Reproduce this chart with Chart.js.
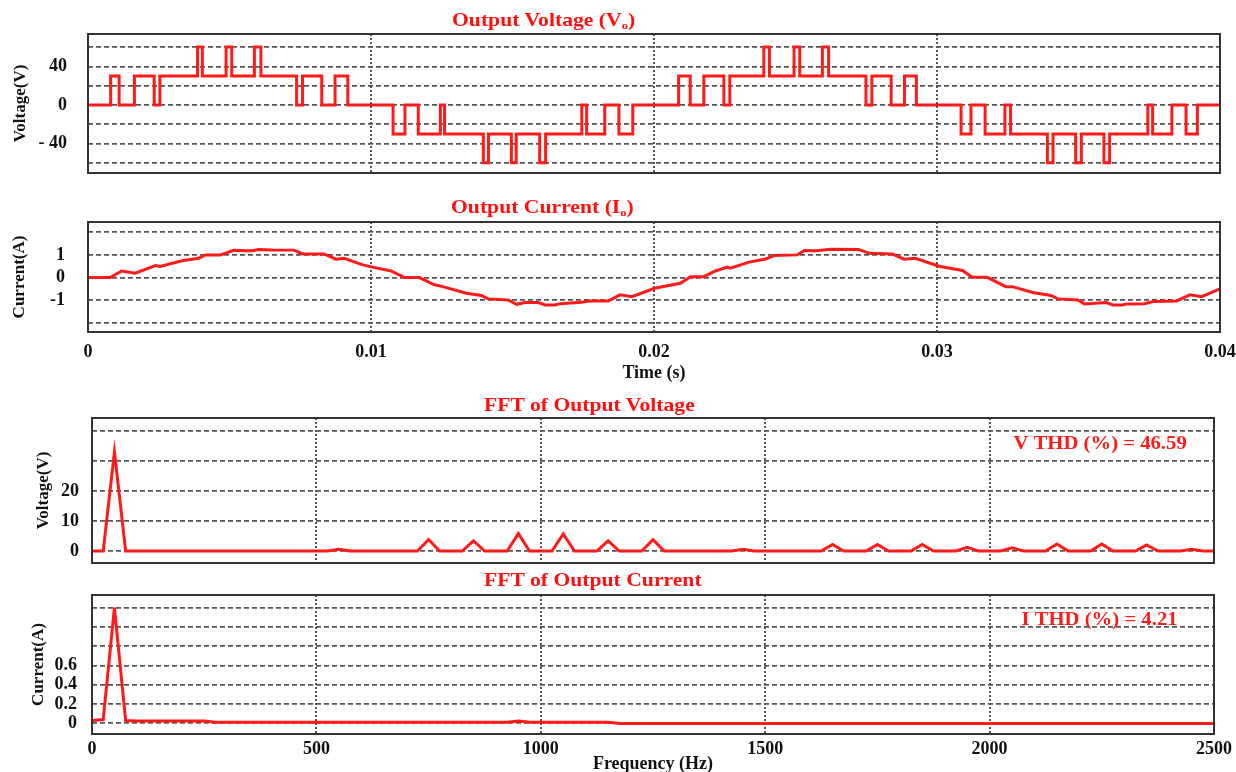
<!DOCTYPE html>
<html>
<head>
<meta charset="utf-8">
<script src="https://cdn.jsdelivr.net/npm/chart.js@4.4.0/dist/chart.umd.min.js"></script>
<style>
body { margin: 0; background: #fff; }
#wrap { position: relative; width: 1236px; height: 772px; overflow: hidden; }
canvas { position: absolute; left: 0; }
.ttl { position: absolute; font: bold 19px "Liberation Serif", "Times New Roman", serif; color: #ff1010; line-height: 22px; white-space: nowrap; z-index: 2; transform: scaleX(1.14); transform-origin: left center; }
.ttl sub { font-size: 11px; vertical-align: -3px; }
</style>
</head>
<body>
<div id="wrap">
<canvas id="c1" width="1236" height="178" style="top:0px"></canvas>
<canvas id="c2" width="1236" height="204" style="top:180px"></canvas>
<canvas id="c3" width="1236" height="185" style="top:384px"></canvas>
<canvas id="c4" width="1236" height="203" style="top:569px"></canvas>
<div class="ttl" style="left:452px;top:9px">Output Voltage (V<sub>o</sub>)</div>
<div class="ttl" style="left:451px;top:196px">Output Current (I<sub>o</sub>)</div>
<div class="ttl" style="left:484px;top:394px">FFT of Output Voltage</div>
<div class="ttl" style="left:484px;top:569px">FFT of Output Current</div>
</div>
<script>
// output voltage: switching instants (ms) and the level held from each one (V)
var vTimeMs = [0, 0.80, 1.10, 1.64, 2.34, 2.54, 3.87, 4.04, 4.88, 5.08, 5.88, 6.11, 7.37, 7.58, 8.26, 8.73, 9.18,
  10.78, 11.20, 11.67, 12.45, 12.60, 13.97, 14.15, 14.96, 15.13, 15.96, 16.17, 17.45, 17.62, 18.26, 18.76, 19.25,
  20.87, 21.28, 21.76, 22.47, 22.68, 23.88, 24.08, 24.95, 25.15, 25.95, 26.17, 27.49, 27.70, 28.38, 28.85, 29.27,
  30.85, 31.20, 31.70, 32.40, 32.60, 33.90, 34.10, 34.90, 35.10, 35.90, 36.10, 37.45, 37.62, 38.30, 38.80, 39.20, 40.00];
var vLevel = [0, 30, 0, 30, 0, 30, 60, 30, 60, 30, 60, 30, 0, 30, 0, 30, 0,
  -30, 0, -30, 0, -30, -60, -30, -60, -30, -60, -30, 0, -30, 0, -30, 0,
  30, 0, 30, 0, 30, 60, 30, 60, 30, 60, 30, 0, 30, 0, 30, 0,
  -30, 0, -30, 0, -30, -60, -30, -60, -30, -60, -30, 0, -30, 0, -30, 0, 0];

// output current (ms, A)
var iTimeMs = [0, 0.78, 1.19, 1.67, 2.38, 2.55, 3.32, 3.91, 4.15, 4.68, 5.15, 5.57, 5.80, 6.04, 6.51, 7.28, 7.58, 8.34,
  8.76, 9.05, 9.71, 10.06, 10.71, 11.18, 11.71, 12.24, 12.54, 13.37, 13.90, 14.14, 14.85, 15.14, 15.44, 15.91, 16.15,
  16.50, 16.68, 17.45, 17.68, 18.39, 18.80, 19.22, 20.02, 20.93, 21.29, 21.76, 22.17, 22.59, 22.70, 23.36, 23.95,
  24.24, 25.07, 25.31, 25.72, 26.25, 27.23, 27.61, 28.42, 28.83, 29.24, 30.07, 30.90, 31.25, 31.78, 32.43, 32.67,
  33.38, 34.03, 34.27, 34.98, 35.21, 35.98, 36.22, 36.57, 36.69, 37.34, 37.63, 38.46, 38.94, 39.35, 40.00];
var iValue = [0, 0, 0.29, 0.19, 0.53, 0.49, 0.74, 0.85, 1.0, 1.0, 1.2, 1.18, 1.18, 1.24, 1.22, 1.21, 1.04, 1.04,
  0.81, 0.85, 0.56, 0.46, 0.29, 0, 0, -0.32, -0.4, -0.69, -0.79, -0.94, -0.99, -1.18, -1.1, -1.1, -1.21,
  -1.21, -1.15, -1.09, -1.03, -1.03, -0.76, -0.84, -0.47, -0.25, 0.04, 0.04, 0.29, 0.46, 0.41, 0.68, 0.82,
  0.97, 1.0, 1.19, 1.18, 1.25, 1.24, 1.07, 1.04, 0.81, 0.85, 0.5, 0.31, 0.01, 0.01, -0.4, -0.4,
  -0.66, -0.79, -0.94, -0.99, -1.16, -1.1, -1.21, -1.21, -1.16, -1.15, -1.06, -1.03, -0.76, -0.84, -0.5];

// voltage spectrum: harmonic frequency (Hz) and magnitude (V)
var vHarmFreq = [50, 550, 750, 850, 950, 1050, 1150, 1250, 1450, 1650, 1750, 1850, 1950, 2050, 2150, 2250, 2350, 2450];
var vHarmMag = [33, 0.6, 3.8, 3.4, 5.8, 5.7, 3.4, 3.8, 0.6, 2.2, 2.2, 2.2, 1.2, 1.1, 2.3, 2.3, 2.0, 0.6];
var binHalfWidth = 25;

// current spectrum (Hz, A)
var iFftFreq = [0, 25, 50, 75, 100, 250, 275, 925, 950, 975, 1150, 1175, 2500];
var iFftMag = [0.03, 0.04, 1.2, 0.03, 0.025, 0.025, 0.012, 0.012, 0.025, 0.012, 0.012, 0, 0];

var timeTicks = [0, 0.01, 0.02, 0.03, 0.04];
var freqTicks = [0, 500, 1000, 1500, 2000, 2500];
var voltGrid = [-60, -40, -20, 0, 20, 40, 60];
var voltLabels = { '40': '40', '0': '0', '-40': '- 40' };
var curGrid = [-2, -1, 0, 1, 2];
var curLabels = { '1': '1', '0': '0', '-1': '-1' };
var vFftGrid = [0, 10, 20, 30, 40];
var vFftLabels = { '0': '0', '10': '10', '20': '20' };
var iFftGrid = [0, 0.2, 0.4, 0.6, 0.8, 1.0, 1.2];
var iFftLabels = { '0': '0', '0.2': '0.2', '0.4': '0.4', '0.6': '0.6' };

var RED = '#ff1a1a';
var SERIF = "'Liberation Serif', 'Times New Roman', serif";
var TICK_FONT = { family: SERIF, weight: 'bold', size: 18 };
var YTITLE_FONT = { family: SERIF, weight: 'bold', size: 17 };

// box round the plot area
var framePlugin = {
    id: 'frame',
    afterDraw: function(chart) {
        var a = chart.chartArea, ctx = chart.ctx;
        ctx.save();
        ctx.strokeStyle = '#333';
        ctx.lineWidth = 2;
        ctx.strokeRect(a.left, a.top, a.right - a.left, a.bottom - a.top);
        ctx.restore();
    }
};

// THD text placed at data coordinates (a bit stretched, like the original)
var notePlugin = {
    id: 'note',
    afterDatasetsDraw: function(chart, args, opts) {
        if (!opts || !opts.text) return;
        var ctx = chart.ctx;
        var px = chart.scales.x.getPixelForValue(opts.x);
        var py = chart.scales.y.getPixelForValue(opts.y);
        ctx.save();
        ctx.translate(px, py);
        ctx.scale(1.15, 1);
        ctx.font = 'bold 18px ' + SERIF;
        ctx.fillStyle = RED;
        ctx.textAlign = 'left';
        ctx.textBaseline = 'middle';
        ctx.fillText(opts.text, 0, 0);
        ctx.restore();
    }
};

function fixTicks(list) {
    return function(scale) {
        scale.ticks = list.map(function(v) { return { value: v }; });
    };
}

function makeChart(id, c) {
    return new Chart(document.getElementById(id), {
        type: 'line',
        data: {
            datasets: [{
                data: c.points,
                borderColor: RED,
                borderWidth: c.lw,
                pointRadius: 0,
                tension: 0,
                stepped: c.stepped || false
            }]
        },
        options: {
            responsive: false,
            animation: false,
            layout: { padding: c.pad },
            plugins: {
                legend: { display: false },
                tooltip: { enabled: false },
                note: c.note || false
            },
            scales: {
                x: {
                    type: 'linear',
                    min: c.xMin,
                    max: c.xMax,
                    afterBuildTicks: fixTicks(c.xTicks),
                    afterFit: function(s) {
                        s.height = c.xh;
                        s.paddingLeft = 0; s.paddingRight = 0;
                    },
                    grid: { color: '#555', lineWidth: 2, drawTicks: false },
                    border: { display: false, dash: [2, 2] },
                    ticks: {
                        display: c.xLabels,
                        padding: c.xPad || 0,
                        color: '#111',
                        font: TICK_FONT,
                        maxRotation: 0,
                        autoSkip: false,
                        callback: function(v) { return String(v); }
                    },
                    title: {
                        display: !!c.xTitle,
                        text: c.xTitle || '',
                        color: '#111',
                        font: TICK_FONT,
                        padding: { top: 0, bottom: c.xTitleBottom || 0 }
                    }
                },
                y: {
                    min: c.yMin,
                    max: c.yMax,
                    afterBuildTicks: fixTicks(c.yGrid),
                    afterFit: function(s) {
                        s.width = c.yw;
                        s.paddingTop = 0; s.paddingBottom = 0;
                    },
                    grid: { color: '#555', lineWidth: 1.8, drawTicks: false },
                    border: { display: false, dash: [5, 3] },
                    ticks: {
                        padding: c.yPad,
                        color: '#111',
                        font: TICK_FONT,
                        autoSkip: false,
                        callback: function(v) { return c.yLabels[String(v)] || ''; }
                    },
                    title: {
                        display: true,
                        text: c.yTitle,
                        color: '#111',
                        font: YTITLE_FONT,
                        padding: { top: 4, bottom: 0 }
                    }
                }
            }
        },
        plugins: [framePlugin, notePlugin]
    });
}

var vPoints = vTimeMs.map(function(t, i) { return { x: t / 1000, y: vLevel[i] }; });
var iPoints = iTimeMs.map(function(t, i) { return { x: t / 1000, y: iValue[i] }; });

var vFftPoints = [{ x: 0, y: 0 }];
for (var k = 0; k < vHarmFreq.length; k++) {
    vFftPoints.push({ x: vHarmFreq[k] - binHalfWidth, y: 0 });
    vFftPoints.push({ x: vHarmFreq[k], y: vHarmMag[k] });
    vFftPoints.push({ x: vHarmFreq[k] + binHalfWidth, y: 0 });
}
vFftPoints.push({ x: 2500, y: 0 });

var iFftPoints = iFftFreq.map(function(f, i) { return { x: f, y: iFftMag[i] }; });

makeChart('c1', {
    points: vPoints, lw: 3, stepped: true,
    pad: { top: 34, bottom: 5, left: 6, right: 16 },
    xMin: 0, xMax: 0.04, xTicks: timeTicks, xh: 0, xLabels: false,
    yMin: -70.5, yMax: 73.6, yGrid: voltGrid, yLabels: voltLabels, yw: 82, yPad: 21, yTitle: 'Voltage(V)'
});

makeChart('c2', {
    points: iPoints, lw: 3,
    pad: { top: 42, bottom: 0, left: 5, right: 16 },
    xMin: 0, xMax: 0.04, xTicks: timeTicks, xh: 52, xLabels: true, xPad: 10, xTitle: 'Time (s)', xTitleBottom: 0,
    yMin: -2.4, yMax: 2.45, yGrid: curGrid, yLabels: curLabels, yw: 83, yPad: 23, yTitle: 'Current(A)'
});

makeChart('c3', {
    points: vFftPoints, lw: 3,
    pad: { top: 34, bottom: 6, left: 29, right: 22 },
    xMin: 0, xMax: 2500, xTicks: freqTicks, xh: 0, xLabels: false,
    yMin: -4, yMax: 44.3, yGrid: vFftGrid, yLabels: vFftLabels, yw: 63, yPad: 13, yTitle: 'Voltage(V)',
    note: { text: 'V THD (%) = 46.59', x: 2053, y: 35.5 }
});

makeChart('c4', {
    points: iFftPoints, lw: 3,
    pad: { top: 26, bottom: 0, left: 24, right: 22 },
    xMin: 0, xMax: 2500, xTicks: freqTicks, xh: 38, xLabels: true, xPad: 5, xTitle: 'Frequency (Hz)', xTitleBottom: -3,
    yMin: -0.11, yMax: 1.33, yGrid: iFftGrid, yLabels: iFftLabels, yw: 68, yPad: 15, yTitle: 'Current(A)',
    note: { text: 'I THD (%) = 4.21', x: 2071, y: 1.07 }
});
</script>
</body>
</html>
